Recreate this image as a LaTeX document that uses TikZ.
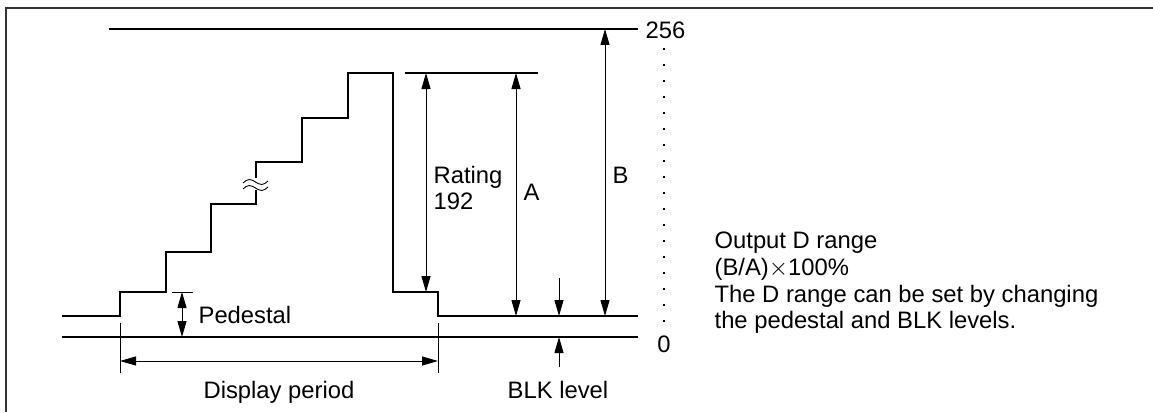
\documentclass[tikz,border=0pt]{standalone}
\usepackage{fontspec}
\setmainfont{Liberation Sans}
\usetikzlibrary{arrows.meta}
\begin{document}
\begin{tikzpicture}[x=1pt,y=-1pt,line width=1.25pt,
  lbl/.style={inner sep=0pt,font=\fontsize{23.8}{27}\selectfont},
  dimarrow/.style={line width=1pt,{Triangle[length=16pt,width=9pt]}-{Triangle[length=16pt,width=9pt]}},
  onearrow/.style={line width=1pt,-{Triangle[length=16pt,width=9pt]}},
  thinline/.style={line width=1pt},
  dotmark/.style={rectangle,fill=black,inner sep=0pt,minimum size=2.6pt}]
\useasboundingbox (0,0) rectangle (1153,412);
% frame
\draw[line width=1.6pt,black!80] (6,412) -- (6,8) -- (1153,8);
% coordinates
\coordinate (top256L) at (109,29);
\coordinate (top256R) at (638,29);
\coordinate (zeroL) at (62,337);
\coordinate (zeroR) at (638,337);
\coordinate (ratL) at (405,73);
\coordinate (ratR) at (538,73);
% top level line
\draw (top256L) -- (top256R);
% zero line
\draw (zeroL) -- (zeroR);
% staircase
\draw (62,316) -- (120,316) -- (120,292) -- (166,292) -- (166,252) -- (211,252)
  -- (211,204) -- (256,204) -- (256,190);
\draw (256,178) -- (256,162) -- (302,162) -- (302,118) -- (348,118) -- (348,73)
  -- (393,73) -- (393,292) -- (438,292) -- (438,316) -- (638,316);
% break symbol
\draw[line width=0.9pt] (243,183) sin (249.25,179.5) cos (255.5,182) sin (261.75,184.5) cos (268,181);
\draw[line width=0.9pt] (243,189) sin (249.25,185.5) cos (255.5,188) sin (261.75,190.5) cos (268,187);
% rating top line
\draw (ratL) -- (ratR);
% dimension arrows
\coordinate (rT) at (426,73);  \coordinate (rB) at (426,292);
\coordinate (aT) at (516,73);  \coordinate (aB) at (516,316);
\coordinate (bT) at (605,29);  \coordinate (bB) at (605,316);
\draw[dimarrow] (rT) -- (rB);
\draw[dimarrow] (aT) -- (aB);
\draw[dimarrow] (bT) -- (bB);
% BLK arrows
\coordinate (blkS1) at (559,278); \coordinate (blkE1) at (559,316);
\coordinate (blkS2) at (559,367); \coordinate (blkE2) at (559,337);
\draw[onearrow] (blkS1) -- (blkE1);
\draw[onearrow] (blkS2) -- (blkE2);
% pedestal
\coordinate (pedT) at (182,292); \coordinate (pedB) at (182,337);
\draw[thinline] (172,292) -- (193,292);
\draw[dimarrow] (pedT) -- (pedB);
% display period
\coordinate (dpL) at (120,361); \coordinate (dpR) at (438,361);
\draw[thinline] (120,323) -- (120,373);
\draw[thinline] (438,323) -- (438,373);
\draw[dimarrow] (dpL) -- (dpR);
% dots
\foreach \i in {0,...,17} \node[dotmark] (dot\i) at (664,{49+16*\i}) {};
% labels
\node[lbl,anchor=base west] (l256) at (645,38) {256};
\node[lbl,anchor=base] (l0) at (664,352) {0};
\node[lbl,anchor=base west] (lped) at (198,323) {Pedestal};
\node[lbl,anchor=base] (ldp) at (279,398) {Display period};
\node[lbl,anchor=base] (lblk) at (558,398) {BLK level};
\node[lbl,anchor=base west] (lrat1) at (433,183) {Rating};
\node[lbl,anchor=base west] (lrat2) at (433,209) {192};
\node[lbl,anchor=base west] (lA) at (523,200) {A};
\node[lbl,anchor=base west] (lB) at (612,183) {B};
\node[lbl,anchor=base west] (lo1) at (714,248) {Output D range};
\node[lbl,anchor=base west] (lo2) at (714,275) {(B/A)$\times$100\%};
\node[lbl,anchor=base west] (lo3) at (714,302) {The D range can be set by changing};
\node[lbl,anchor=base west] (lo4) at (714,328) {the pedestal and BLK levels.};
\end{tikzpicture}
\end{document}
